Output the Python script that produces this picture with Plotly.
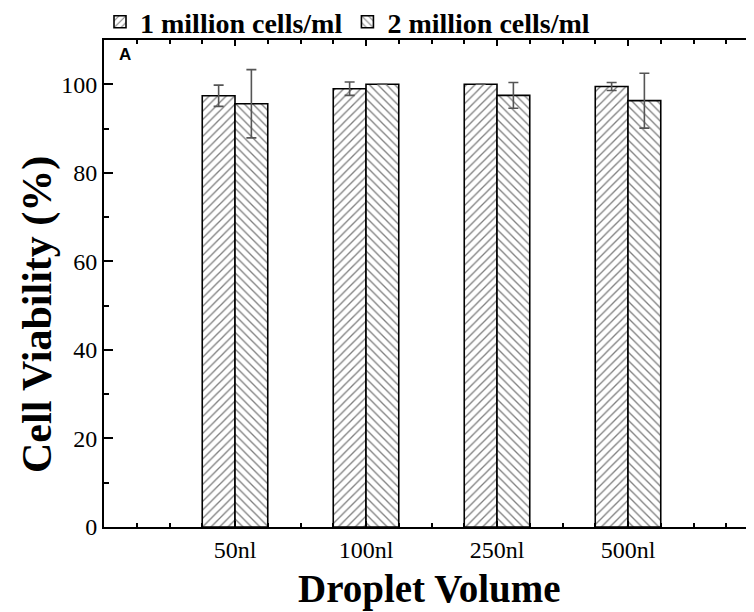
import plotly.graph_objects as go

categories = ["50nl", "100nl", "250nl", "500nl"]
cat_pos = [1, 2, 3, 4]
viab_1m = [97.4, 99.0, 100.0, 99.5]
err_1m = [2.4, 1.5, 0.0, 0.9]
viab_2m = [95.6, 100.0, 97.5, 96.3]
err_2m = [7.7, 0.0, 2.9, 6.2]
series_names = ["1 million cells/ml", "2 million cells/ml"]

SERIF = "Liberation Serif"
OFF = 8  # page body margin offset
W, H = 754 - OFF, 612 - OFF
ML, MR, MT, MB = 104 - OFF, 0, 40 - OFF, 85
PW = W - ML - MR
PH = H - MT - MB


def py(pix_y):
    """screen pixel y (reference) -> paper y"""
    return (612 - MB - pix_y) / PH


def px(pix_x):
    return (pix_x - 104) / PW


fig = go.Figure()
for name, vals, errs, shape in [
    (series_names[0], viab_1m, err_1m, "/"),
    (series_names[1], viab_2m, err_2m, "\\"),
]:
    fig.add_trace(go.Bar(
        x=cat_pos, y=vals, name="<b>" + name + "</b>",
        marker=dict(color="white",
                    line=dict(color="black", width=1.6),
                    pattern=dict(shape=shape, fgcolor="black", bgcolor="white",
                                 size=6, solidity=0.22)),
        error_y=dict(type="data", array=errs, visible=True,
                     color="#555555", thickness=1.6, width=5),
    ))

fig.update_layout(
    width=W, height=H,
    margin=dict(l=ML, r=MR, t=MT, b=MB, autoexpand=False),
    paper_bgcolor="white", plot_bgcolor="white",
    barmode="group", bargap=0.5, bargroupgap=0,
    font=dict(family=SERIF, size=24, color="black"),
    showlegend=True,
    legend=dict(orientation="h", x=px(100), xanchor="left",
                y=py(-3), yanchor="top",
                font=dict(family=SERIF, size=28, color="black"),
                bgcolor="rgba(0,0,0,0)", itemwidth=30,
                tracegroupgap=0),
)

fig.update_xaxes(
    range=[0, PW / 131.0],
    tickvals=cat_pos, ticktext=categories,
    ticks="inside", ticklen=6, tickwidth=1.5, tickcolor="black",
    minor=dict(dtick=0.25, tick0=0, ticks="inside", ticklen=4, tickwidth=1.5, tickcolor="black"),
    showline=True, linecolor="black", linewidth=2, mirror="ticks",
    showgrid=False, zeroline=False,
    tickfont=dict(family=SERIF, size=24, color="black"),
)
fig.update_yaxes(
    range=[0, 110],
    tickvals=[0, 20, 40, 60, 80, 100],
    ticks="inside", ticklen=9, tickwidth=1.5, tickcolor="black",
    minor=dict(dtick=10, ticks="inside", ticklen=5, tickwidth=1.5, tickcolor="black"),
    showline=True, linecolor="black", linewidth=2,
    showgrid=False, zeroline=False,
    tickfont=dict(family=SERIF, size=24, color="black"),
)

fig.add_annotation(text="<b>Cell Viability (%)</b>", textangle=-90,
                   xref="paper", yref="paper",
                   x=px(37), y=py(315),
                   xanchor="center", yanchor="middle", showarrow=False,
                   font=dict(family=SERIF, size=42, color="black"))
fig.add_annotation(text="<b>Droplet Volume</b>",
                   xref="paper", yref="paper",
                   x=0.5, y=py(589),
                   xanchor="center", yanchor="middle", showarrow=False,
                   font=dict(family=SERIF, size=39, color="black"))
fig.add_annotation(text="<b>A</b>", xref="paper", yref="paper",
                   x=px(117), y=py(55),
                   xanchor="left", yanchor="middle", showarrow=False,
                   font=dict(family="Liberation Sans", size=17, color="black"))

fig.write_html("out.html")
